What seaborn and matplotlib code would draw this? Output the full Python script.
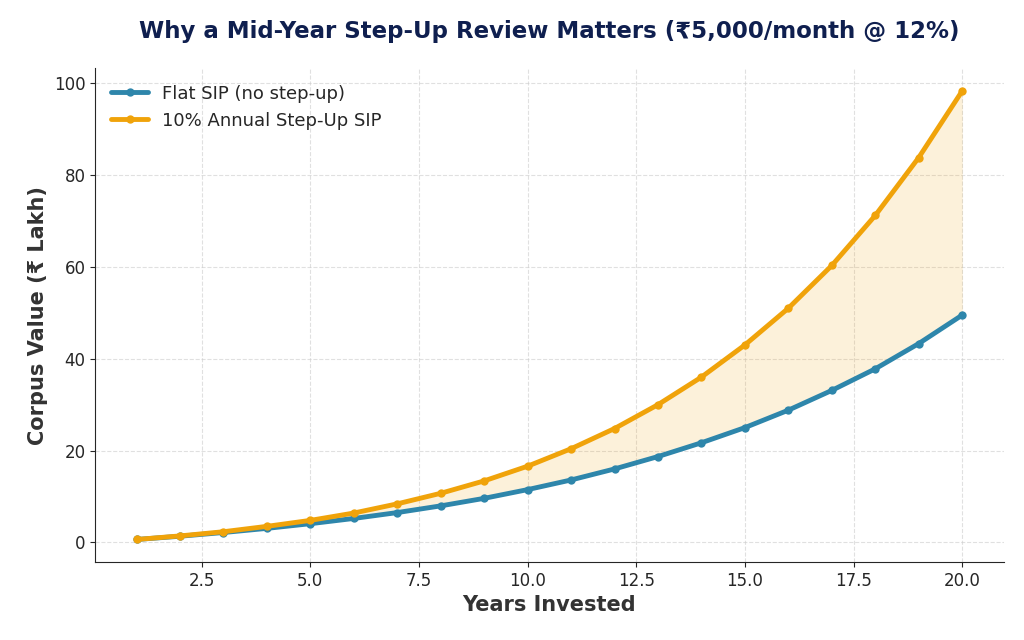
import numpy as np
import pandas as pd
import matplotlib
matplotlib.use("Agg")
import matplotlib.pyplot as plt
import seaborn as sns

years = list(range(1, 21))
flat_sip = [0.64, 1.35, 2.16, 3.06, 4.08, 5.22, 6.5, 7.96, 9.6, 11.5,
            13.6, 16.0, 18.7, 21.7, 25.0, 28.8, 33.1, 37.8, 43.3, 49.5]
stepup_sip = [0.64, 1.42, 2.33, 3.5, 4.8, 6.4, 8.4, 10.7, 13.4, 16.6,
              20.4, 24.8, 30.0, 36.0, 43.0, 51.0, 60.3, 71.2, 83.8, 98.3]

df = pd.DataFrame({"Years": years, "Flat": flat_sip, "StepUp": stepup_sip})

sns.set_style("ticks")
plt.rcParams['font.family'] = ['DejaVu Sans']
fig, ax = plt.subplots(figsize=(10.24, 6.4), dpi=100)

blue = "#2E86AB"
orange = "#F0A30A"
sns.lineplot(data=df, x="Years", y="Flat", ax=ax, color=blue, lw=3.5,
             marker="o", markersize=6, markeredgewidth=0, label="Flat SIP (no step-up)")
sns.lineplot(data=df, x="Years", y="StepUp", ax=ax, color=orange, lw=3.5,
             marker="o", markersize=6, markeredgewidth=0, label="10% Annual Step-Up SIP")
ax.fill_between(df["Years"], df["Flat"], df["StepUp"], color=orange, alpha=0.15, lw=0)

ax.set_title("Why a Mid-Year Step-Up Review Matters (₹5,000/month @ 12%)",
             fontsize=16.5, fontweight="bold", color="#0F1F4F", pad=22)
ax.set_xlabel("Years Invested", fontsize=15, fontweight="bold", color="#333333")
ax.set_ylabel("Corpus Value (₹ Lakh)", fontsize=15, fontweight="bold", color="#333333")
ax.tick_params(labelsize=12)
ax.grid(True, linestyle="--", alpha=0.6)
ax.set_yticks([0, 20, 40, 60, 80, 100])
sns.despine(ax=ax)
ax.legend(loc="upper left", fontsize=13, frameon=False)

plt.subplots_adjust(left=0.093, right=0.98, top=0.893, bottom=0.122)
plt.savefig("out.png", dpi=100)
